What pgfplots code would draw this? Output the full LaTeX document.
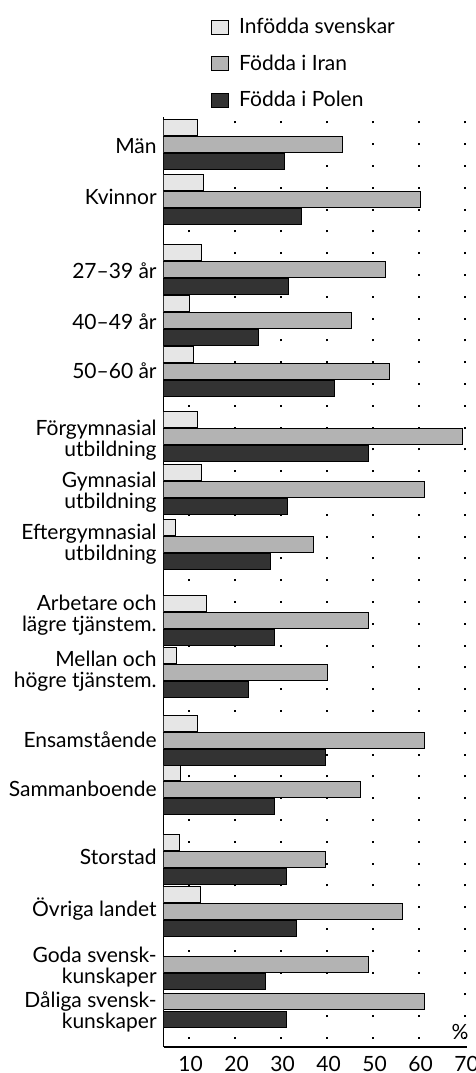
\documentclass[border=0pt]{standalone}
\usepackage{fontspec}
\setmainfont{Lato}
\usepackage{pgfplots}
\pgfplotsset{compat=1.18}
\definecolor{cSwe}{HTML}{E6E6E6}
\definecolor{cIran}{HTML}{B3B3B3}
\definecolor{cPol}{HTML}{333333}
\begin{document}
\begin{tikzpicture}[font=\fontsize{10.5}{11}\selectfont]
\begin{axis}[
  scale only axis, width=151.8pt, height=465pt,
  xmin=4.5, xmax=70.5, ymin=26, ymax=956,
  xbar, bar width=16,
  axis x line*=bottom, axis y line*=left,
  axis line style={line width=0.6pt, black},
  xtick={10,20,30,40,50,60,70},
  ytick={61,106,164,216,284,333,402,458,529,581,633,702,751,802.5,876,927},
  yticklabels={{Dåliga svensk-\\kunskaper},{Goda svensk-\\kunskaper},{Övriga landet},{Storstad},{Sammanboende},{Ensamstående},{Mellan och\\högre tjänstem.},{Arbetare och\\lägre tjänstem.},{Eftergymnasial\\utbildning},{Gymnasial\\utbildning},{Förgymnasial\\utbildning},{50–60 år},{40–49 år},{27–39 år},{Kvinnor},{Män}},
  yticklabel style={align=right, font=\fontsize{10.5}{10.5}\selectfont},
  xticklabel style={yshift=-1pt, xshift=0.8pt, font=\fontsize{10.5}{11}\selectfont},
  /pgf/number format/assume math mode=true,
  major tick length=0pt,
  xmajorgrids=true, ymajorgrids=false,
  major grid style={black, line width=1pt, dash pattern=on 1pt off 9.9pt, dash phase=6.9pt},
  legend style={at={(0.155,1.111)}, anchor=north west, draw=none, fill=none,
    inner sep=0pt, row sep=5pt, column sep=3pt, font=\fontsize{10.5}{11}\selectfont},
  legend cell align=left,
  legend image code/.code={\draw[#1,line width=0.5pt] (0pt,-3.5pt) rectangle (8.5pt,3.5pt);},
]
\addplot[xbar, bar shift=0pt, fill=cSwe, draw=black, line width=0.5pt] coordinates {
(11.9,945) (13.1,890.5) (12.8,820) (10.1,769) (10.9,718.5) (11.9,653) (12.7,600) (7.0,545) (13.8,469) (7.2,417.5) (11.9,349) (8.2,300) (7.9,230) (12.5,178)
};
\addlegendentry{Infödda svenskar}
\addplot[xbar, bar shift=0pt, fill=cIran, draw=black, line width=0.5pt] coordinates {
(43.4,928) (60.4,873.5) (52.8,803) (45.3,752) (53.5,701.5) (69.5,636) (61.1,583) (37.0,528) (49.1,452) (40.1,400.5) (61.1,332) (47.2,283) (39.6,213) (56.4,161) (49.0,108) (61.1,71)
};
\addlegendentry{Födda i Iran}
\addplot[xbar, bar shift=0pt, fill=cPol, draw=black, line width=0.5pt] coordinates {
(30.8,911) (34.5,856.5) (31.7,786) (25.2,735) (41.6,684.5) (49.1,619) (31.4,566) (27.7,511) (28.6,435) (23.0,383.5) (39.7,315) (28.6,266) (31.2,196) (33.3,144) (26.7,91) (31.2,53)
};
\addlegendentry{Födda i Polen}
\node at (axis cs:68.9,41) {\%};
\coordinate (bl) at (axis cs:-31.09,0);
\coordinate (tr) at (axis cs:72.39,1073);
\end{axis}
\pgfresetboundingbox
\path[use as bounding box] (bl) rectangle (tr);
\end{tikzpicture}
\end{document}
